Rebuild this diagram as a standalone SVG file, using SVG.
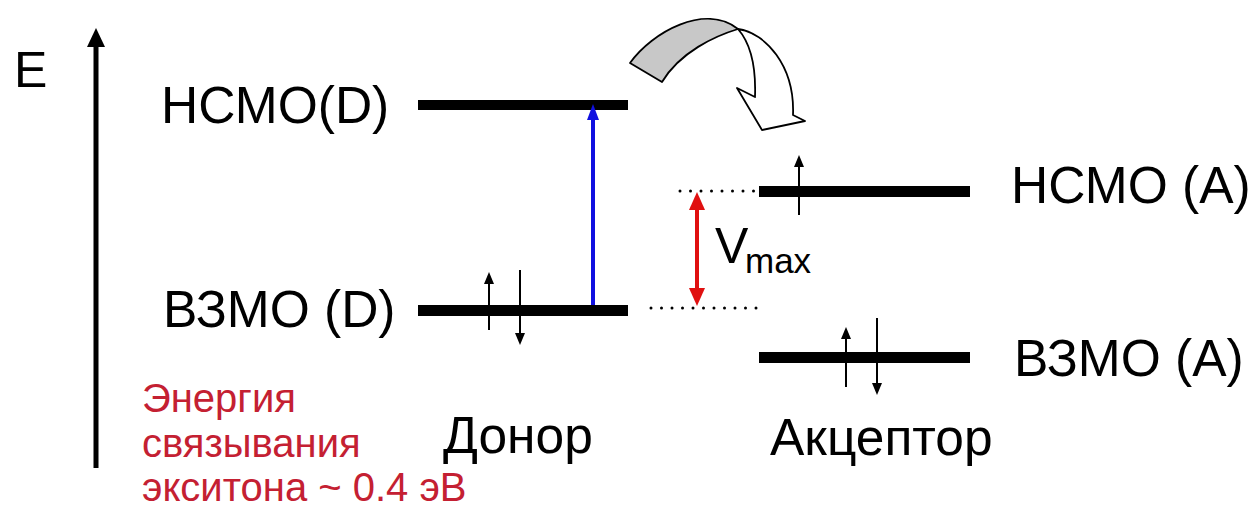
<svg xmlns="http://www.w3.org/2000/svg" width="1255" height="509" viewBox="0 0 1255 509">
<style>
text{font-family:"Liberation Sans",Arial,sans-serif;fill:#000}
.lbl{font-size:51.5px}
.red{font-size:40px;fill:#c42032}
.lvl{fill:#000}
.spin{stroke:#000;stroke-width:2;fill:none}
.dot{stroke:#000;stroke-width:3;stroke-linecap:round;stroke-dasharray:0 10.5;fill:none}
</style>
<rect width="1255" height="509" fill="#fff"/>

<g id="axis">
<line x1="96" y1="44" x2="96" y2="468" stroke="#000" stroke-width="5"/>
<path d="M87,47 L96,28 L105,47 Z" fill="#000"/>
<text x="14" y="87" style="font-size:50px">E</text>
</g>

<g id="homo-lumo-donor">
<rect class="lvl" x="418" y="100" width="210" height="10"/>
<text class="lbl" x="161" y="123">НСМО(D)</text>
<rect class="lvl" x="418" y="305" width="210" height="11"/>
<text class="lbl" x="163" y="327">ВЗМО (D)</text>
<line class="spin" x1="489" y1="330" x2="489" y2="283"/>
<path d="M484,284 L489,272 L494,284 Z" fill="#000"/>
<line class="spin" x1="520" y1="270" x2="520" y2="334"/>
<path d="M515,333 L520,345 L525,333 Z" fill="#000"/>
<text class="lbl" x="443" y="453">Донор</text>
</g>

<g id="homo-lumo-acceptor">
<rect class="lvl" x="759" y="186" width="211" height="11"/>
<text class="lbl" x="1011" y="203">НСМО (А)</text>
<rect class="lvl" x="759" y="352" width="211" height="11"/>
<text class="lbl" x="1014" y="376">ВЗМО (А)</text>
<line class="spin" x1="799" y1="215" x2="799" y2="166"/>
<path d="M794,167 L799,155 L804,167 Z" fill="#000"/>
<line class="spin" x1="846" y1="387" x2="846" y2="338"/>
<path d="M841,339 L846,327 L851,339 Z" fill="#000"/>
<line class="spin" x1="877" y1="318" x2="877" y2="384"/>
<path d="M872,383 L877,395 L882,383 Z" fill="#000"/>
<text class="lbl" x="770" y="455">Акцептор</text>
</g>

<g id="binding-energy">
<text class="red" x="142" y="412">Энергия</text>
<text class="red" x="142" y="457">связывания</text>
<text class="red" x="142" y="501">экситона ~ 0.4 эВ</text>
</g>

<g id="vmax-label">
<text x="715" y="263" style="font-size:50px">V</text>
<text x="745" y="273" style="font-size:35px">max</text>
</g>

<g id="connectors">
<line x1="593" y1="305" x2="593" y2="118" stroke="#1010e0" stroke-width="4"/>
<path d="M587,120 L593,104 L599,120 Z" fill="#1010e0"/>
<line x1="697" y1="208" x2="697" y2="290" stroke="#e01010" stroke-width="4"/>
<path d="M689,210 L697,192 L705,210 Z" fill="#e01010"/>
<path d="M689,288 L697,306 L705,288 Z" fill="#e01010"/>
<line class="dot" x1="680" y1="191" x2="757" y2="191"/>
<line class="dot" x1="651" y1="308" x2="757" y2="308"/>
<path d="M738,29 C765,33 795,65 793,115 L805,121 L762,130 L737,88 L755,97 C756,70 752,45 738,29 Z" fill="#fff" stroke="#000" stroke-width="1.8" stroke-linejoin="round"/>
<path d="M630,63 C652,32 705,3 738,29 C715,36 680,52 662,82 Z" fill="#c8c8c8" stroke="#000" stroke-width="1.8" stroke-linejoin="round"/>
</g>
</svg>
